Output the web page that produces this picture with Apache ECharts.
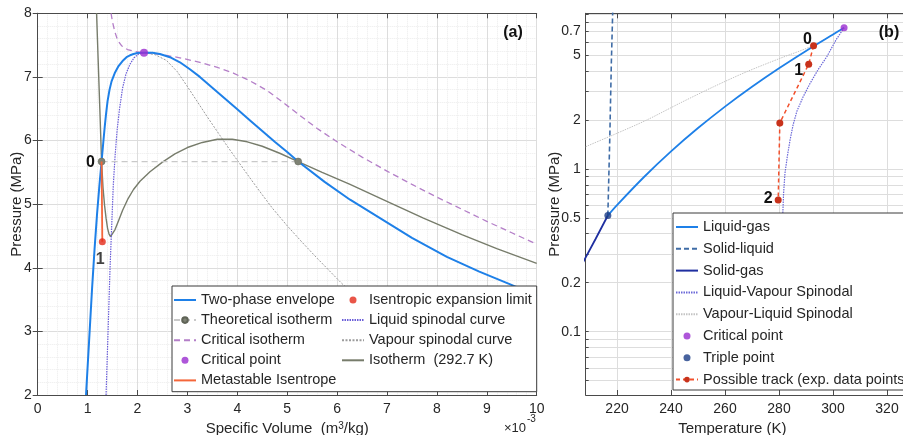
<!DOCTYPE html>
<html>
<head>
<meta charset="utf-8">
<script src="https://cdn.jsdelivr.net/npm/echarts@6/dist/echarts.min.js"></script>
<style>
  html, body { margin: 0; padding: 0; background: #ffffff; }
  #chart { width: 903px; height: 435px; }
</style>
</head>
<body>
<div id="chart"></div>
<script>
// ---------- Panel (a): pressure vs specific volume (volume in 1e-3 m3/kg, pressure in MPa)
const envelopeVol = [0.968, 1.03, 1.09, 1.14, 1.19, 1.235, 1.28, 1.32, 1.345, 1.37, 1.40, 1.44, 1.48, 1.55, 1.62, 1.70, 1.78, 1.85,
                     1.92, 2.0, 2.13, 2.3, 2.45, 2.65, 2.85, 3.05, 3.25, 3.5, 3.75, 4.0, 4.25, 4.5, 4.75, 5.0, 5.22,
                     5.75, 6.26, 6.86, 7.5, 8.2, 8.85, 9.47, 10];
const envelopeP   = [2.0, 2.85, 3.68, 4.3, 4.85, 5.28, 5.67, 6.02, 6.23, 6.42, 6.62, 6.80, 6.93, 7.07, 7.17, 7.25, 7.31, 7.34,
                     7.36, 7.375, 7.38, 7.38, 7.36, 7.31, 7.23, 7.12, 7.0, 6.83, 6.66, 6.49, 6.32, 6.15, 5.98, 5.82, 5.67,
                     5.35, 5.07, 4.78, 4.47, 4.17, 3.94, 3.74, 3.56];

const critIsoVol = [1.47, 1.5, 1.55, 1.6, 1.68, 1.8, 1.95, 2.13, 2.5, 2.85, 3.25, 3.6, 3.92, 4.25, 4.59, 4.9, 5.26, 5.6,
                    6.0, 6.5, 7.0, 7.5, 8.0, 8.5, 9.0, 9.5, 10];
const critIsoP   = [8.0, 7.86, 7.70, 7.58, 7.49, 7.43, 7.40, 7.38, 7.35, 7.30, 7.23, 7.15, 7.06, 6.94, 6.79, 6.61, 6.39, 6.19,
                    5.98, 5.74, 5.52, 5.31, 5.11, 4.92, 4.73, 4.55, 4.37];

const isothermVol = [1.18, 1.21, 1.245, 1.28, 1.31, 1.34, 1.37, 1.40, 1.43, 1.46, 1.50, 1.55, 1.62, 1.70, 1.80, 1.92, 2.05,
                     2.25, 2.5, 2.75, 3.0, 3.3, 3.6, 3.9, 4.2, 4.5, 4.85, 5.22, 5.7, 6.26, 6.9, 7.73, 8.5, 9.2, 10];
const isothermP   = [8.0, 7.3, 6.5, 5.67, 5.25, 4.98, 4.78, 4.62, 4.53, 4.49, 4.51, 4.6, 4.74, 4.9, 5.07, 5.23, 5.36,
                     5.51, 5.66, 5.79, 5.89, 5.97, 6.02, 6.02, 5.98, 5.91, 5.8, 5.67, 5.5, 5.31, 5.08, 4.78, 4.52, 4.3, 4.07];

const liqSpinVol = [1.37, 1.41, 1.45, 1.485, 1.515, 1.55, 1.59, 1.64, 1.70, 1.77, 1.85, 1.93, 2.02, 2.13];
const liqSpinP   = [2.0, 3.0, 4.0, 4.7, 5.3, 5.75, 6.15, 6.5, 6.82, 7.05, 7.2, 7.3, 7.36, 7.38];

const vapSpinVol = [2.13, 2.35, 2.58, 2.8, 2.99, 3.2, 3.4, 3.6, 3.8, 4.0, 4.2, 4.45, 4.7, 5.0, 5.3, 5.6, 6.06, 6.6];
const vapSpinP   = [7.38, 7.35, 7.26, 7.08, 6.86, 6.61, 6.37, 6.14, 5.91, 5.69, 5.47, 5.2, 4.94, 4.66, 4.4, 4.15, 3.78, 3.37];

const theoIsoVol = [1.28, 5.22];
const theoIsoP   = [5.67, 5.67];
const theoIsoLabels = ['0', ''];

const isentropeVol = [1.28, 1.295];
const isentropeP   = [5.67, 4.41];

const limitVol = [1.295];
const limitP   = [4.41];
const limitLabels = ['1'];

const critVolA = [2.13];
const critPA   = [7.38];

// ---------- Panel (b): pressure vs temperature (K, MPa, log pressure axis)
const liqGasT = [216.6, 220, 230, 240, 250, 260, 270, 280, 290, 300, 304.1];
const liqGasP = [0.518, 0.600, 0.893, 1.283, 1.785, 2.419, 3.203, 4.161, 5.318, 6.713, 7.38];

const solLiqT = [216.6, 217.3, 217.9, 218.4];
const solLiqP = [0.518, 1.5, 4.5, 9.2];

const solGasT = [206, 208.4, 212, 216.6];
const solGasP = [0.24, 0.286, 0.37, 0.518];

const lvSpinT = [304.1, 301.1, 297.7, 294.4, 291.5, 288.9, 286.6, 285.2, 284.1, 283.1, 282.2, 281.7, 281.4, 281.1, 280.9];
const lvSpinP = [7.38, 6.21, 4.90, 4.06, 3.36, 2.77, 2.26, 1.86, 1.51, 1.20, 0.94, 0.712, 0.53, 0.366, 0.239];

const vlSpinT = [206, 208.4, 218.6, 231, 243.3, 255.7, 268, 280.4, 293, 304.1];
const vlSpinP = [1.3, 1.37, 1.62, 2.0, 2.54, 3.2, 3.96, 4.79, 5.78, 7.38];

const critTB = [304.1];
const critPB = [7.38];

const tripleT = [216.6];
const tripleP = [0.518];

const trackT = [292.8, 291.0, 280.3, 279.7];
const trackP = [5.72, 4.41, 1.92, 0.645];
const trackLabels = ['0', '1', '', '2'];

const pTickValues = [0.1, 0.2, 0.5, 1, 2, 5, 7];
const pTickLabels = ['0.1', '0.2', '0.5', '1', '2', '5', '0.7'];
const pGridValues = [0.05, 0.06, 0.07, 0.08, 0.09, 0.1, 0.2, 0.3, 0.4, 0.5, 0.6, 0.7, 0.8, 0.9,
                     1, 2, 3, 4, 5, 6, 7, 8, 9];

// ---------- styling helpers
const FONT = '"Liberation Sans", Arial, Helvetica, sans-serif';
const INK = '#262626';
const AXIS = '#4a4a4a';
const MAJOR = '#dddddd';
const MINOR = '#ebebeb';

const zip = (xs, ys) => xs.map((x, i) => [x, ys[i]]);

// point labels sit centred on the mark and are nudged by a pixel offset
const labelled = (xs, ys, labels, offsets) => xs.map((x, i) => ({
  value: [x, ys[i]],
  label: labels[i]
    ? { show: true, formatter: labels[i], position: 'inside', offset: offsets[i],
        color: '#111', fontFamily: FONT, fontSize: 16, fontWeight: 'bold' }
    : { show: false }
}));

// legend entries for plain curves: the line sample only, no marker
const plain = (name) => ({ name, itemStyle: { opacity: 0 } });

const chart = echarts.init(document.getElementById('chart'), null, { renderer: 'canvas' });

const frameAxis = (extra) => Object.assign({
  axisLine: { show: true, lineStyle: { color: AXIS, width: 1 } },
  axisTick: { show: true, inside: true, length: 5, lineStyle: { color: AXIS } },
  axisLabel: { show: false },
  splitLine: { show: false }
}, extra);

const legendText = { fontFamily: FONT, fontSize: 14.5, color: INK };

const option = {
  animation: false,
  backgroundColor: '#ffffff',
  textStyle: { fontFamily: FONT, color: INK },
  grid: [
    { left: 37.7, top: 13.3, width: 499, height: 381.7, containLabel: false, outerBoundsMode: 'none' },
    { left: 585.7, top: 13.3, width: 328.3, height: 381.7, containLabel: false, outerBoundsMode: 'none' }
  ],
  xAxis: [
    {
      gridIndex: 0, type: 'value', min: 0, max: 10, interval: 1,
      name: '{t|Specific Volume  (m}{s|3}{t|/kg)}',
      nameLocation: 'middle', nameGap: 23,
      nameTextStyle: {
        rich: {
          t: { fontFamily: FONT, fontSize: 15, color: INK },
          s: { fontFamily: FONT, fontSize: 10, color: INK, verticalAlign: 'top' }
        }
      },
      axisLine: { show: true, onZero: false, lineStyle: { color: AXIS } },
      axisTick: { inside: true, length: 5, lineStyle: { color: AXIS } },
      axisLabel: { fontSize: 14, color: INK, margin: 7, fontFamily: FONT },
      splitLine: { show: true, lineStyle: { color: MAJOR, width: 1 } },
      minorTick: { show: false, splitNumber: 5 },
      minorSplitLine: { show: true, lineStyle: { color: MINOR, type: 'dotted' } }
    },
    frameAxis({ gridIndex: 0, type: 'value', min: 0, max: 10, interval: 1, position: 'top' }),
    {
      gridIndex: 1, type: 'value', min: 208.4, max: 330, splitNumber: 6,
      name: 'Temperature (K)',
      nameLocation: 'middle', nameGap: 23,
      nameTextStyle: { fontFamily: FONT, fontSize: 15, color: INK, padding: [0, 35, 0, 0] },
      axisLine: { show: true, onZero: false, lineStyle: { color: AXIS } },
      axisTick: { inside: true, length: 5, lineStyle: { color: AXIS } },
      axisLabel: { fontSize: 14, color: INK, margin: 7, fontFamily: FONT, showMinLabel: false, showMaxLabel: false },
      splitLine: { show: true, lineStyle: { color: MAJOR, width: 1 } }
    },
    frameAxis({ gridIndex: 1, type: 'value', min: 208.4, max: 330, splitNumber: 6, position: 'top' })
  ],
  yAxis: [
    {
      gridIndex: 0, type: 'value', min: 2, max: 8, interval: 1,
      name: 'Pressure (MPa)', nameLocation: 'middle', nameGap: 13, nameMoveOverlap: false,
      nameTextStyle: { fontFamily: FONT, fontSize: 15, color: INK },
      axisLine: { show: true, onZero: false, lineStyle: { color: AXIS } },
      axisTick: { inside: true, length: 5, lineStyle: { color: AXIS } },
      axisLabel: { fontSize: 14, color: INK, margin: 6, fontFamily: FONT },
      splitLine: { show: true, lineStyle: { color: MAJOR, width: 1 } },
      minorTick: { show: false, splitNumber: 5 },
      minorSplitLine: { show: true, lineStyle: { color: MINOR, type: 'dotted' } }
    },
    frameAxis({ gridIndex: 0, type: 'value', min: 2, max: 8, interval: 1, position: 'right' }),
    {
      gridIndex: 1, type: 'log', logBase: 10, min: 0.0408, max: 9.06,
      name: 'Pressure (MPa)', nameLocation: 'middle', nameGap: 23, nameMoveOverlap: false,
      nameTextStyle: { fontFamily: FONT, fontSize: 15, color: INK },
      axisLine: { show: true, onZero: false, lineStyle: { color: AXIS } },
      axisTick: { inside: true, length: 3, customValues: pGridValues, lineStyle: { color: AXIS } },
      axisLabel: {
        fontSize: 14, color: INK, margin: 5, fontFamily: FONT,
        customValues: pTickValues,
        formatter: (v) => {
          let best = 0;
          pTickValues.forEach((t, i) => {
            if (Math.abs(Math.log(t / v)) < Math.abs(Math.log(pTickValues[best] / v))) best = i;
          });
          return pTickLabels[best];
        }
      },
      splitLine: { show: true, lineStyle: { color: MAJOR, width: 1 } }
    }
  ],
  legend: [
    {
      left: 173, top: 292.5, orient: 'vertical', padding: 0,
      itemWidth: 22, itemHeight: 7, itemGap: 5.1, textStyle: legendText,
      data: [plain('Two-phase envelope'), 'Theoretical isotherm', plain('Critical isotherm'), 'Critical point',
             plain('Metastable Isentrope')],
      selectedMode: false, z: 10
    },
    {
      left: 341, top: 292.5, orient: 'vertical', padding: 0,
      itemWidth: 22, itemHeight: 7, itemGap: 5.1, textStyle: legendText,
      data: ['Isentropic expansion limit', plain('Liquid spinodal curve'), plain('Vapour spinodal curve'),
             plain('Isotherm  (292.7 K)')],
      selectedMode: false, z: 10
    },
    {
      left: 675, top: 219.5, orient: 'vertical', padding: 0,
      itemWidth: 22, itemHeight: 7, itemGap: 6.8, textStyle: legendText,
      data: [plain('Liquid-gas'), plain('Solid-liquid'), plain('Solid-gas'), plain('Liquid-Vapour Spinodal'),
             plain('Vapour-Liquid Spinodal'), 'Critical point ', 'Triple point', 'Possible track (exp. data points)'],
      selectedMode: false, z: 10
    }
  ],
  graphic: [
    { type: 'rect', z: 5, shape: { x: 172, y: 286, width: 364.7, height: 105.7 },
      style: { fill: '#ffffff', stroke: '#3a3a3a', lineWidth: 1 } },
    { type: 'rect', z: 5, shape: { x: 673, y: 213, width: 260, height: 177 },
      style: { fill: '#ffffff', stroke: '#3a3a3a', lineWidth: 1 } },
    { type: 'text', z: 6, x: 513, y: 33, style: { text: '(a)', fontFamily: FONT, fontSize: 16, fontWeight: 'bold', fill: '#111', align: 'center', verticalAlign: 'middle' } },
    { type: 'text', z: 6, x: 889, y: 33, style: { text: '(b)', fontFamily: FONT, fontSize: 16, fontWeight: 'bold', fill: '#111', align: 'center', verticalAlign: 'middle' } },
    { type: 'text', z: 6, x: 526, y: 428, style: { text: '\u00d710', fontFamily: FONT, fontSize: 13, fill: INK, align: 'right', verticalAlign: 'middle' } },
    { type: 'text', z: 6, x: 527, y: 419, style: { text: '-3', fontFamily: FONT, fontSize: 10, fill: INK, align: 'left', verticalAlign: 'middle' } }
  ],
  series: [
    // ----- panel (a)
    {
      name: 'Critical isotherm', type: 'line', xAxisIndex: 0, yAxisIndex: 0,
      data: zip(critIsoVol, critIsoP), symbol: 'none',
      lineStyle: { color: '#B47FC8', width: 1.3, type: [6, 4] }, itemStyle: { color: '#B47FC8' }, z: 2
    },
    {
      name: 'Vapour spinodal curve', type: 'line', xAxisIndex: 0, yAxisIndex: 0,
      data: zip(vapSpinVol, vapSpinP), symbol: 'none',
      lineStyle: { color: '#9c9c9c', width: 1, type: [2, 1.5] }, itemStyle: { color: '#9c9c9c' }, z: 2
    },
    {
      name: 'Isotherm  (292.7 K)', type: 'line', xAxisIndex: 0, yAxisIndex: 0,
      data: zip(isothermVol, isothermP), symbol: 'none',
      lineStyle: { color: '#777C6B', width: 1.4 }, itemStyle: { color: '#777C6B' }, z: 3
    },
    {
      name: 'Two-phase envelope', type: 'line', xAxisIndex: 0, yAxisIndex: 0,
      data: zip(envelopeVol, envelopeP), symbol: 'none',
      lineStyle: { color: '#1E80E8', width: 2 }, itemStyle: { color: '#1E80E8' }, z: 3
    },
    {
      name: 'Liquid spinodal curve', type: 'line', xAxisIndex: 0, yAxisIndex: 0,
      data: zip(liqSpinVol, liqSpinP), symbol: 'none',
      lineStyle: { color: '#6A5ED8', width: 1.2, type: [1.5, 1] }, itemStyle: { color: '#6A5ED8' }, z: 3
    },
    {
      name: 'Theoretical isotherm', type: 'line', xAxisIndex: 0, yAxisIndex: 0,
      data: labelled(theoIsoVol, theoIsoP, theoIsoLabels, [[-11, 1], [0, 0]]),
      symbol: 'circle', symbolSize: 7,
      lineStyle: { color: '#c9c9c9', width: 1.3, type: [6, 4] },
      itemStyle: { color: '#7E8274', borderColor: '#5f6356', borderWidth: 0.5 }, z: 4
    },
    {
      name: 'Metastable Isentrope', type: 'line', xAxisIndex: 0, yAxisIndex: 0,
      data: zip(isentropeVol, isentropeP), symbol: 'none',
      lineStyle: { color: '#F4663A', width: 1.8 }, itemStyle: { color: '#F4663A' }, z: 5
    },
    {
      name: 'Isentropic expansion limit', type: 'scatter', xAxisIndex: 0, yAxisIndex: 0,
      data: labelled(limitVol, limitP, limitLabels, [[-2, 18]]),
      symbol: 'circle', symbolSize: 7, itemStyle: { color: '#E32A1A' }, z: 6
    },
    {
      name: 'Critical point', type: 'scatter', xAxisIndex: 0, yAxisIndex: 0,
      data: zip(critVolA, critPA), symbol: 'circle', symbolSize: 8,
      itemStyle: { color: '#9A2CD0' }, z: 6
    },
    // ----- panel (b)
    {
      name: 'Vapour-Liquid Spinodal', type: 'line', xAxisIndex: 2, yAxisIndex: 2,
      data: zip(vlSpinT, vlSpinP), symbol: 'none', smooth: 0.3,
      lineStyle: { color: '#c4c4c4', width: 1, type: [1.5, 1] }, itemStyle: { color: '#c4c4c4' }, z: 2
    },
    {
      name: 'Solid-liquid', type: 'line', xAxisIndex: 2, yAxisIndex: 2,
      data: zip(solLiqT, solLiqP), symbol: 'none',
      lineStyle: { color: '#3F6CA6', width: 1.6, type: [5, 3] }, itemStyle: { color: '#3F6CA6' }, z: 3
    },
    {
      name: 'Solid-gas', type: 'line', xAxisIndex: 2, yAxisIndex: 2,
      data: zip(solGasT, solGasP), symbol: 'none',
      lineStyle: { color: '#1F2FA0', width: 1.8 }, itemStyle: { color: '#1F2FA0' }, z: 3
    },
    {
      name: 'Liquid-gas', type: 'line', xAxisIndex: 2, yAxisIndex: 2,
      data: zip(liqGasT, liqGasP), symbol: 'none', smooth: 0.3,
      lineStyle: { color: '#1E80E8', width: 1.8 }, itemStyle: { color: '#1E80E8' }, z: 3
    },
    {
      name: 'Liquid-Vapour Spinodal', type: 'line', xAxisIndex: 2, yAxisIndex: 2,
      data: zip(lvSpinT, lvSpinP), symbol: 'none',
      lineStyle: { color: '#6B68D8', width: 1.2, type: [1.5, 1] }, itemStyle: { color: '#6B68D8' }, z: 3
    },
    {
      name: 'Possible track (exp. data points)', type: 'line', xAxisIndex: 2, yAxisIndex: 2,
      data: labelled(trackT, trackP, trackLabels, [[-6, -6], [-10, 6], [0, 0], [-10, -1]]),
      symbol: 'circle', symbolSize: 7, showAllSymbol: true,
      lineStyle: { color: '#F2502C', width: 1.5, type: [4, 3] },
      itemStyle: { color: '#C8321B' }, z: 5
    },
    {
      name: 'Critical point ', type: 'scatter', xAxisIndex: 2, yAxisIndex: 2,
      data: zip(critTB, critPB), symbol: 'circle', symbolSize: 7,
      itemStyle: { color: '#9A2CD0' }, z: 6
    },
    {
      name: 'Triple point', type: 'scatter', xAxisIndex: 2, yAxisIndex: 2,
      data: zip(tripleT, tripleP), symbol: 'circle', symbolSize: 7,
      itemStyle: { color: '#1A3C86' }, z: 6
    }
  ]
};

chart.setOption(option);
</script>
</body>
</html>
